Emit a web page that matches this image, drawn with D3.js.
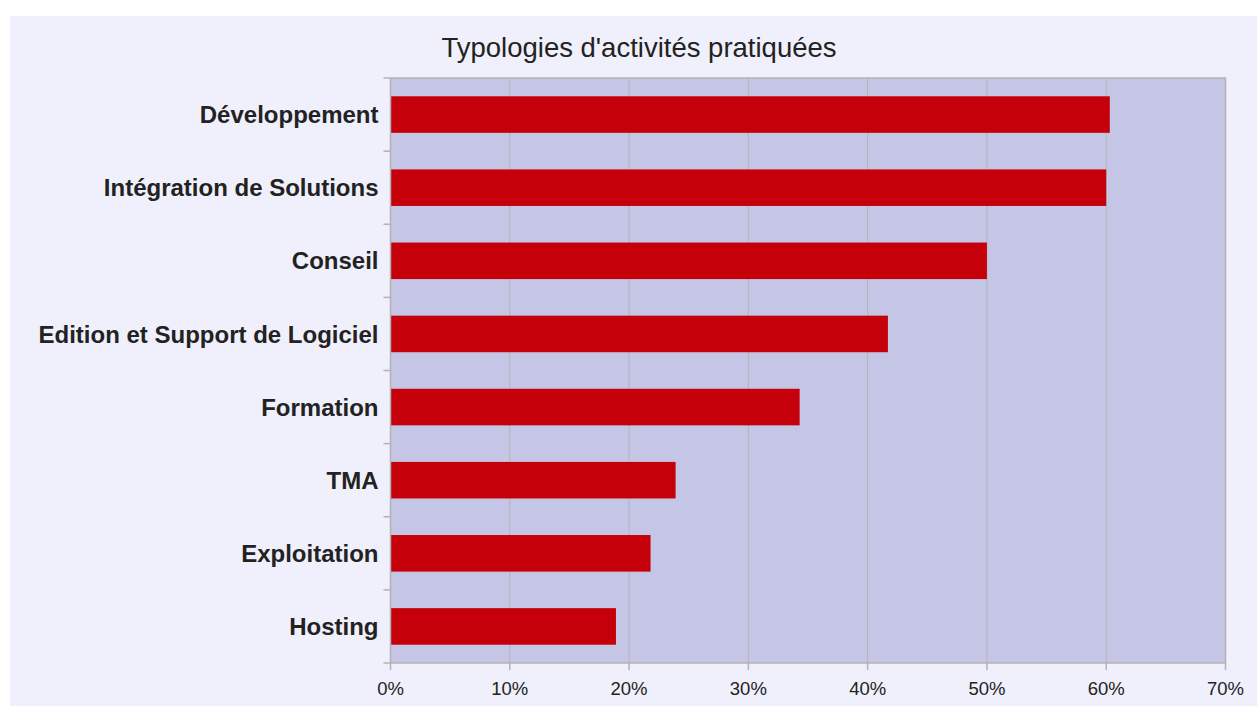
<!DOCTYPE html>
<html>
<head>
    <meta charset="utf-8">
    <title>Typologies d'activités pratiquées</title>
    <script src="https://d3js.org/d3.v7.min.js"></script>
    <style>
        html, body {
            margin: 0;
            padding: 0;
            background: #ffffff;
        }
        svg text {
            font-family: "Liberation Sans", Arial, Helvetica, sans-serif;
            fill: #222222;
        }
    </style>
</head>
<body>
<div id="chart"></div>
<script>
    // data
    const categories = ['Développement', 'Intégration de Solutions', 'Conseil', 'Edition et Support de Logiciel',
        'Formation', 'TMA', 'Exploitation', 'Hosting'];
    const shares = [60.3, 60.0, 50.0, 41.7, 34.3, 23.9, 21.8, 18.9];
    const xTicks = [0, 10, 20, 30, 40, 50, 60, 70];

    const width = 1257;
    const height = 706;
    const plot = { left: 390.5, right: 1225.5, top: 78, bottom: 663 };

    const svg = d3.select("#chart")
        .append("svg")
        .attr("width", width)
        .attr("height", height);

    // outer panel
    svg.append("rect")
        .attr("x", 10)
        .attr("y", 16)
        .attr("width", width - 10)
        .attr("height", height - 16)
        .attr("fill", "#f0f0fc");

    const x = d3.scaleLinear()
        .domain([0, 70])
        .range([plot.left, plot.right]);

    const y = d3.scaleBand()
        .domain(categories)
        .range([plot.top, plot.bottom])
        .paddingInner(0.5)
        .paddingOuter(0.25);

    // plot area
    svg.append("rect")
        .attr("x", plot.left)
        .attr("y", plot.top)
        .attr("width", plot.right - plot.left)
        .attr("height", plot.bottom - plot.top)
        .attr("fill", "#c5c6e6");

    // vertical gridlines
    svg.selectAll(".grid")
        .data(xTicks.slice(1, -1))
        .enter()
        .append("line")
        .attr("class", "grid")
        .attr("x1", d => x(d))
        .attr("x2", d => x(d))
        .attr("y1", plot.top)
        .attr("y2", plot.bottom)
        .attr("stroke", "#b3b3b9")
        .attr("stroke-width", 1);

    // bars
    svg.selectAll(".bar")
        .data(categories)
        .enter()
        .append("rect")
        .attr("class", "bar")
        .attr("x", x(0))
        .attr("y", d => y(d))
        .attr("width", (d, i) => x(shares[i]) - x(0))
        .attr("height", y.bandwidth())
        .attr("fill", "#c5000b");

    // frame
    svg.append("rect")
        .attr("x", plot.left)
        .attr("y", plot.top)
        .attr("width", plot.right - plot.left)
        .attr("height", plot.bottom - plot.top)
        .attr("fill", "none")
        .attr("stroke", "#b3b3b3")
        .attr("stroke-width", 1.5);

    // category boundary ticks on the left
    const rowH = (plot.bottom - plot.top) / categories.length;
    svg.selectAll(".ytick")
        .data(d3.range(categories.length + 1))
        .enter()
        .append("line")
        .attr("class", "ytick")
        .attr("x1", plot.left - 7)
        .attr("x2", plot.left)
        .attr("y1", d => plot.top + d * rowH)
        .attr("y2", d => plot.top + d * rowH)
        .attr("stroke", "#b3b3b3")
        .attr("stroke-width", 1.5);

    // x axis ticks and labels
    svg.selectAll(".xtick")
        .data(xTicks)
        .enter()
        .append("line")
        .attr("class", "xtick")
        .attr("x1", d => x(d))
        .attr("x2", d => x(d))
        .attr("y1", plot.bottom)
        .attr("y2", plot.bottom + 7)
        .attr("stroke", "#b3b3b3")
        .attr("stroke-width", 1.5);

    svg.selectAll(".xlabel")
        .data(xTicks)
        .enter()
        .append("text")
        .attr("class", "xlabel")
        .attr("x", d => x(d))
        .attr("y", 695)
        .attr("text-anchor", "middle")
        .style("font-size", "18.5px")
        .text(d => d + "%");

    // category labels
    svg.selectAll(".ylabel")
        .data(categories)
        .enter()
        .append("text")
        .attr("class", "ylabel")
        .attr("x", plot.left - 12)
        .attr("y", d => y(d) + y.bandwidth() / 2)
        .attr("dy", "0.36em")
        .attr("text-anchor", "end")
        .style("font-size", "24px")
        .style("font-weight", "bold")
        .text(d => d);

    // title
    svg.append("text")
        .attr("x", 639)
        .attr("y", 57)
        .attr("text-anchor", "middle")
        .style("font-size", "27.5px")
        .text("Typologies d'activités pratiquées");
</script>
</body>
</html>
